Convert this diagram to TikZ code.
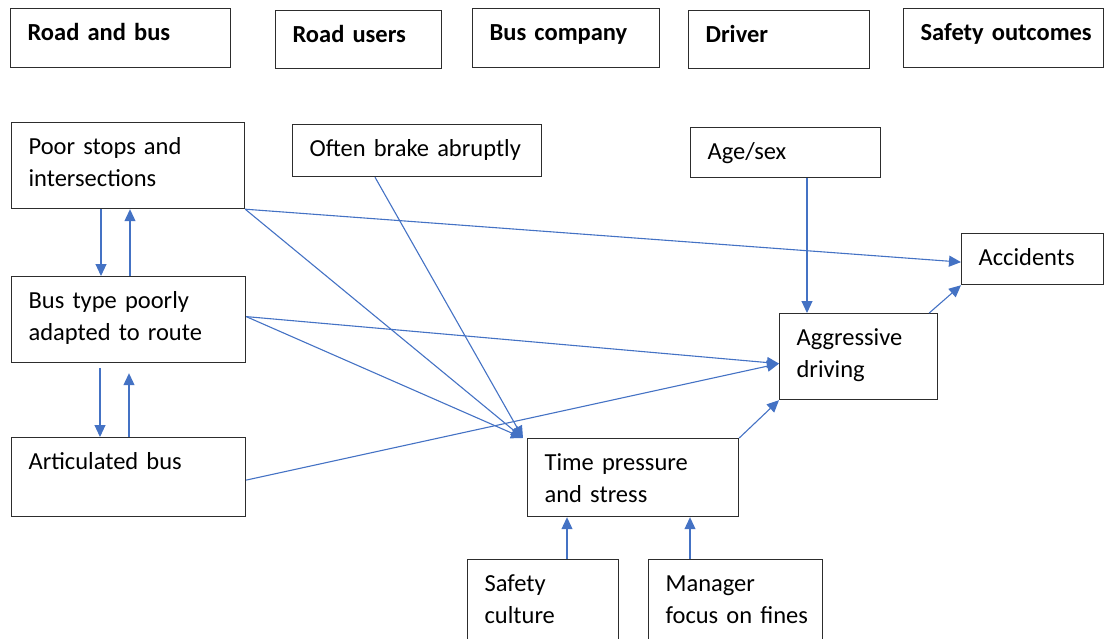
\documentclass[tikz,border=0pt]{standalone}
\usepackage{fontspec}
\setmainfont{Carlito}
\usetikzlibrary{arrows.meta, calc}

\definecolor{linkblue}{RGB}{68,114,196}
\definecolor{boxgray}{RGB}{45,45,45}

\begin{document}
\begin{tikzpicture}[
                x=1pt, y=-1pt,
                box/.style={draw=boxgray, line width=1.2pt, anchor=north west, inner sep=0pt, align=left,
                    text height=32pt, font=\fontsize{24.5}{32}\selectfont, execute at begin node={\leftskip=17pt}},
                head/.style={box, font=\fontsize{24.5}{32}\selectfont\bfseries},
                arr/.style={-{Triangle[length=12pt, width=11pt]}, draw=linkblue, line width=1.1pt},
            ]
            \useasboundingbox (0,0) rectangle (1107,639);
            \clip (0,0) rectangle (1107,639);

            % Column headings:
            \node[head, text width=220pt, text depth=27pt] (road)     at (10,8)  {Road and bus};
            \node[head, text width=166pt, text depth=26pt] (users)    at (275,10) {Road users};
            \node[head, text width=187pt, text depth=27pt] (company)  at (472,8) {Bus company};
            \node[head, text width=181pt, text depth=26pt] (driver)   at (688,10) {Driver};
            \node[head, text width=200pt, text depth=27pt] (outcomes) at (903,8) {Safety outcomes};

            % Factors:
            \node[box, text width=233pt, text depth=54pt] (poor)    at (11,122)  {Poor stops and\\intersections};
            \node[box, text width=249pt, text depth=20pt] (brake)   at (292,124) {Often brake abruptly};
            \node[box, text width=190pt, text depth=18pt] (age)     at (690,127) {Age/sex};
            \node[box, text width=142pt, text depth=19pt] (acc)     at (961,233) {Accidents};
            \node[box, text width=234pt, text depth=54pt] (bustype) at (11,276)  {Bus type poorly\\adapted to route};
            \node[box, text width=158pt, text depth=54pt] (aggr)    at (779,313) {Aggressive\\driving};
            \node[box, text width=234pt, text depth=47pt] (artic)   at (11,437)  {Articulated bus};
            \node[box, text width=211pt, text depth=46pt] (time)    at (527,438) {Time pressure\\and stress};
            \node[box, text width=151pt, text depth=68pt] (safety)  at (467,559) {Safety\\culture};
            \node[box, text width=174pt, text depth=68pt] (manager) at (648,559) {Manager\\focus on fines};

            % Links between road and bus factors:
            \draw[arr] ([xshift=90pt]poor.south west) -- ([xshift=90pt]bustype.north west);
            \draw[arr] ([xshift=119pt]bustype.north west) -- ([xshift=119pt]poor.south west);
            \draw[arr] ([xshift=89pt,yshift=-5pt]bustype.south west) -- ([xshift=89pt]artic.north west);
            \draw[arr] ([xshift=118pt]artic.north west) -- ([xshift=118pt,yshift=-10pt]bustype.south west);

            % Links towards stress, driving and accidents:
            \coordinate (stressin) at ([xshift=-4pt]time.north west);
            \coordinate (aggrin) at ([yshift=-7pt]aggr.west);
            \draw[arr] (poor.south east) -- ([yshift=-3pt]acc.west);
            \draw[arr] (poor.south east) -- (stressin);
            \draw[arr] ([xshift=83pt]brake.south west) -- (stressin);
            \draw[arr] ([yshift=3pt]bustype.east) -- (aggrin);
            \draw[arr] ([yshift=3pt]bustype.east) -- (stressin);
            \draw[arr] ([yshift=-3pt]artic.east) -- (aggrin);
            \draw[arr] ([xshift=117pt]age.south west) -- ([xshift=28pt]aggr.north west);
            \draw[arr] ([xshift=-9pt]aggr.north east) -- (acc.south west);
            \draw[arr] (time.north east) -- (aggr.south west);
            \draw[arr] ([xshift=100pt]safety.north west) -- ([xshift=40pt]time.south west);
            \draw[arr] ([xshift=42pt]manager.north west) -- ([xshift=163pt]time.south west);
        \end{tikzpicture}
\end{document}
